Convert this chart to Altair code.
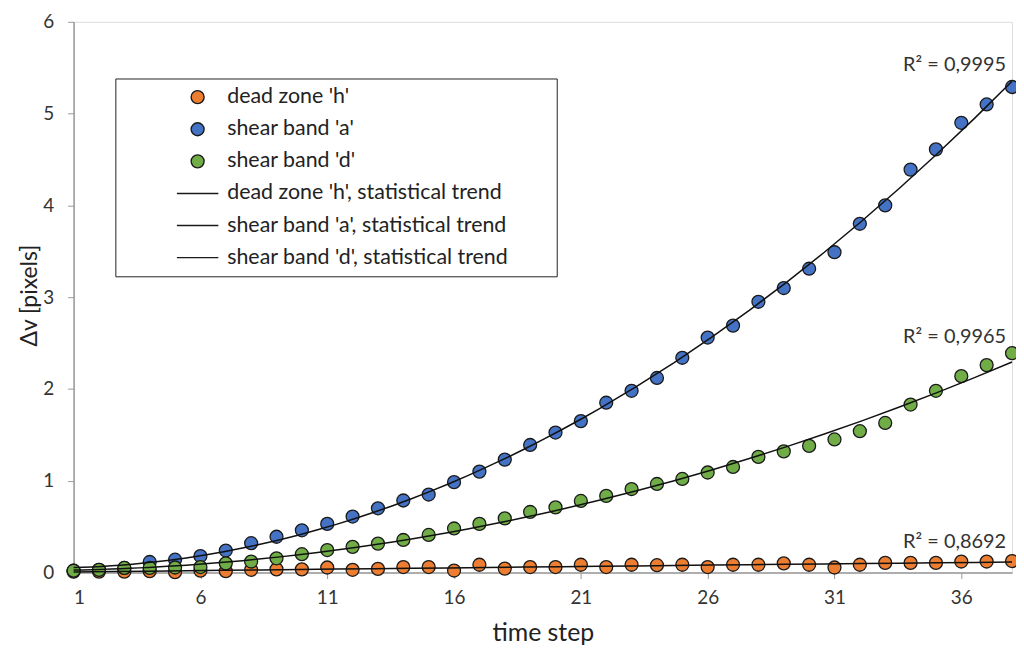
import altair as alt
import pandas as pd

TIME = list(range(1, 39))
DEAD_H = [0.01, 0.01, 0.01, 0.015, 0.005, 0.02, 0.015, 0.03, 0.035, 0.035,
          0.055, 0.03, 0.04, 0.06, 0.06, 0.022, 0.085, 0.043, 0.06, 0.06,
          0.085, 0.06, 0.085, 0.08, 0.085, 0.06, 0.085, 0.085, 0.10, 0.085,
          0.055, 0.085, 0.105, 0.105, 0.105, 0.12, 0.12, 0.125]
SHEAR_A = [0.02, 0.03, 0.05, 0.115, 0.14, 0.18, 0.24, 0.32, 0.39, 0.46,
           0.53, 0.61, 0.70, 0.785, 0.85, 0.985, 1.10, 1.23, 1.39, 1.525,
           1.65, 1.85, 1.98, 2.12, 2.34, 2.56, 2.69, 2.95, 3.10, 3.31,
           3.49, 3.80, 4.00, 4.39, 4.61, 4.90, 5.10, 5.29]
SHEAR_D = [0.02, 0.03, 0.05, 0.05, 0.055, 0.06, 0.10, 0.12, 0.155, 0.20,
           0.245, 0.28, 0.315, 0.355, 0.41, 0.48, 0.53, 0.59, 0.66, 0.71,
           0.78, 0.835, 0.91, 0.965, 1.02, 1.09, 1.15, 1.26, 1.32, 1.38,
           1.45, 1.54, 1.63, 1.83, 1.98, 2.14, 2.26, 2.39]

SERIES = ["dead zone 'h'", "shear band 'a'", "shear band 'd'"]
TREND = [s + ", statistical trend" for s in SERIES]
COLORS = ["#ED7D31", "#4472C4", "#70AD47"]
R2_TEXT = ["R² = 0,8692", "R² = 0,9995", "R² = 0,9965"]
R2_Y = [0.33, 5.53, 2.57]
R2_X = [38, 38, 38]
X_TICKS = [1, 6, 11, 16, 21, 26, 31, 36]
Y_TICKS = [0, 1, 2, 3, 4, 5, 6]

FONT = "Lato"

df = pd.DataFrame({
    "t": TIME * 3,
    "v": DEAD_H + SHEAR_A + SHEAR_D,
    "series": [SERIES[0]] * len(TIME) + [SERIES[1]] * len(TIME) + [SERIES[2]] * len(TIME),
})
r2 = pd.DataFrame({"t": R2_X, "v": R2_Y, "label": R2_TEXT})

x_scale = alt.Scale(domain=[1, 38], nice=False, zero=False)
y_scale = alt.Scale(domain=[0, 6], nice=False)
LEG_DOMAIN = SERIES + TREND

legend = alt.Legend(
    title="\u00a0", titleOrient="right", titlePadding=41,
    orient="none", legendX=42, legendY=57,
    strokeColor="#222", padding=8, fillColor="white",
    symbolOffset=64, labelOffset=19, rowPadding=9.3,
    symbolStrokeWidth=1.4, symbolSize=170,
    labelFont=FONT, labelFontSize=21.5, labelColor="#222", labelLimit=400,
)

x_axis = alt.Axis(values=X_TICKS, title="time step", grid=False,
                  labelFontSize=19, titleFontSize=25, titleFontWeight="normal",
                  labelPadding=10, titlePadding=13, tickSize=6,
                  tickColor="#999", domainColor="#999", domainWidth=1.5,
                  labelColor="#333", titleColor="#222", labelFont=FONT, titleFont=FONT)
y_axis = alt.Axis(values=Y_TICKS, format="d", title="Δv [pixels]", grid=False,
                  labelFontSize=19, titleFontSize=23, titleFontWeight="normal",
                  labelPadding=14, tickSize=6,
                  titleX=-44, titleY=275, titleBaseline="middle", titleAlign="center",
                  tickColor="#999", domainColor="#999", domainWidth=1.5,
                  labelColor="#333", titleColor="#222", labelFont=FONT, titleFont=FONT)

points = alt.Chart(df).mark_point(filled=True, size=170, strokeWidth=1.3, opacity=1).encode(
    x=alt.X("t:Q", scale=x_scale, axis=x_axis),
    y=alt.Y("v:Q", scale=y_scale, axis=y_axis),
    fill=alt.Fill("series:N", scale=alt.Scale(domain=LEG_DOMAIN, range=COLORS + ["#000"] * 3),
                  legend=legend),
    stroke=alt.Stroke("series:N", scale=alt.Scale(domain=LEG_DOMAIN, range=["#1a1a1a"] * 6),
                      legend=legend),
    shape=alt.Shape("series:N", scale=alt.Scale(domain=LEG_DOMAIN,
                                                range=["circle"] * 3 + ["M-3.2,0H3.2"] * 3),
                    legend=legend),
)

trend = alt.Chart(df).transform_regression(
    "t", "v", groupby=["series"], method="poly", order=2
).mark_line(color="#111", strokeWidth=1.5).encode(
    x=alt.X("t:Q", scale=x_scale),
    y=alt.Y("v:Q", scale=y_scale),
    detail="series:N",
)

labels = alt.Chart(r2).mark_text(align="right", baseline="middle", dx=-6,
                                 fontSize=20, font=FONT, color="#333").encode(
    x=alt.X("t:Q", scale=x_scale),
    y=alt.Y("v:Q", scale=y_scale),
    text="label:N",
)

chart = alt.layer(points, trend, labels).properties(
    width=944, height=554,
    autosize=alt.AutoSizeParams(type="none"),
    padding={"left": 66, "top": 12, "right": 4, "bottom": 76},
).configure_view(stroke="#444", strokeWidth=2).configure(font=FONT, background="white")

chart.save("out.html", embed_options={"renderer": "svg", "actions": False})
